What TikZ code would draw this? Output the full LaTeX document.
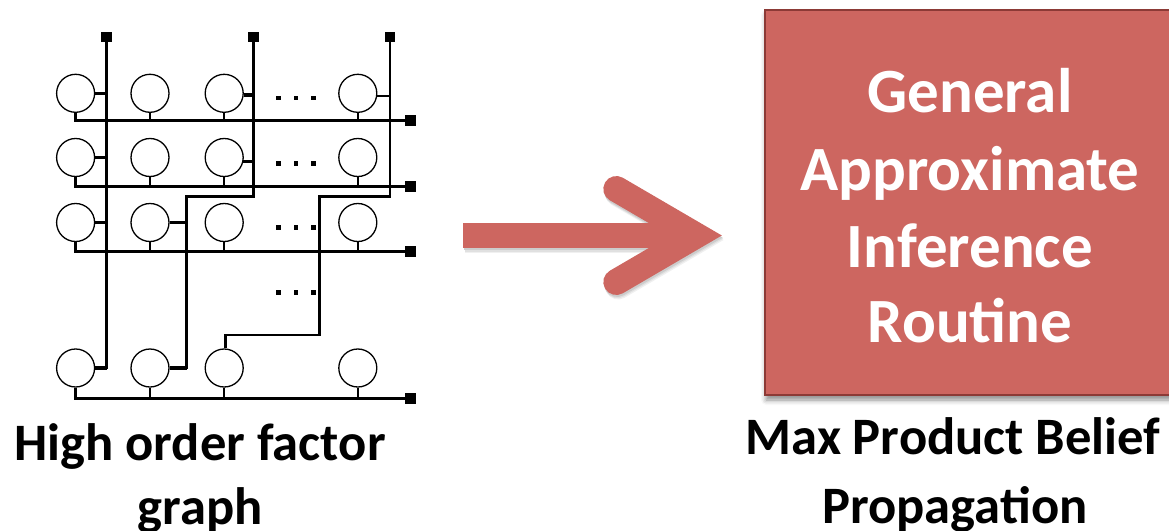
\documentclass[tikz,border=0pt]{standalone}
\usepackage{fontspec}
\setmainfont{Carlito}
\usetikzlibrary{shadows.blur}
\definecolor{boxred}{RGB}{205,102,96}
\definecolor{boxedge}{RGB}{140,58,54}
\begin{document}
\begin{tikzpicture}[x=1pt,y=-1pt,
  varnode/.style={circle,draw,line width=1.3pt,minimum size=38pt,inner sep=0pt},
  fac/.style={rectangle,fill,minimum size=10.5pt,inner sep=0pt},
  wire/.style={line width=2.5pt},
  stub/.style={line width=3.3pt},
  thinstub/.style={line width=1.5pt},
  dropline/.style={line width=2.3pt},
  captiontext/.style={font=\fontsize{52.6}{63}\selectfont\bfseries,anchor=base,inner sep=0pt},
  boxtext/.style={font=\fontsize{63}{76}\selectfont\bfseries,text=white,anchor=base,inner sep=0pt}]
\useasboundingbox (0,0) rectangle (1169,530);

% variable nodes of the grid
\foreach \r/\y in {1/93.3,2/157.5,3/222.5,4/368}
  \foreach \c/\x in {1/75.6,2/150,3/224.2,4/357.8}
    \node[varnode] (v\r\c) at (\x,\y) {};

% factor squares: one per row (right) and one per column chain (top)
\foreach \r/\y in {1/120.7,2/186.7,3/251.7,4/398.3}
  \node[fac] (f\r) at (410.3,\y) {};
\foreach \k/\x in {1/106.7,2/253.3,3/390}
  \node[fac] (t\k) at (\x,37) {};

% row factors
\foreach \r in {1,...,4} {
  \draw[wire] (v\r1.south) |- (f\r.center);
  \foreach \c in {2,3,4}
    \draw[dropline] (v\r\c.south) -- (v\r\c.south |- f\r.center);
}

% first column factor
\draw[wire] (t1.center) |- (v41.east);
\foreach \r in {1,...,4}
  \draw[stub] (v\r1.east) -- (v\r1.east -| t1.center);

% second high order factor
\coordinate (b2) at (186.7,196.7);
\coordinate (s13) at (v13.355);
\coordinate (s23) at (v23.348);
\draw[wire] (t2.center) |- (b2) |- (v42.east);
\draw[stub] (s13) -- (s13 -| t2.center);
\draw[stub] (s23) -- (s23 -| t2.center);
\draw[stub] (v32.east) -- (v32.east -| b2);
\draw[stub] (v42.east) -- (v42.east -| b2);

% third high order factor
\coordinate (c3a) at (319.3,196.7);
\coordinate (c3b) at (225.7,335);
\coordinate (s14) at (v14.352);
\draw[wire] (t3.center) |- (c3a) |- (c3b) -- (c3b |- v43.north);
\draw[thinstub] (s14) -- (s14 -| t3.center);

% ellipsis dots
\foreach \y in {98,163.5,227.3,292.3}
  \foreach \x in {278.3,296,313.3}
    \fill (\x-2.2,\y-2.2) rectangle (\x+2.2,\y+2.2);

% block arrow with a soft shadow
\foreach \d/\g in {4.5/6,3.2/12,2/20} {
  \fill[black!\g] (463.3+\d*0.4,222.7+\d) rectangle (696+\d*0.4,248.3+\d);
  \draw[black!\g, line width=26pt, line cap=round, line join=miter]
    (616.3+\d*0.4,189+\d) -- (696+\d*0.4,235.5+\d) -- (616.3+\d*0.4,282+\d);
}
\fill[boxred] (463.3,222.7) rectangle (696,248.3);
\draw[boxred, line width=26pt, line cap=round, line join=miter]
  (616.3,189) -- (696,235.5) -- (616.3,282);

% inference routine box
\node[draw=boxedge, fill=boxred, line width=2pt, minimum width=410pt,
      minimum height=385pt, inner sep=0pt,
      blur shadow={shadow xshift=1pt, shadow yshift=-5pt,
                   shadow blur radius=5pt, shadow opacity=45}]
  (box) at (970,202.5) {};
\node[boxtext] (bt1) at (970,112) {General};
\node[boxtext] (bt2) at (970,190) {Approximate};
\node[boxtext] (bt3) at (970,267) {Inference};
\node[boxtext] (bt4) at (970,342) {Routine};

% captions
\node[captiontext] (cl1) at (200,460) {High order factor};
\node[captiontext] (cl2) at (200,524) {graph};
\node[captiontext] (cr1) at (953,454) {Max Product Belief};
\node[captiontext] (cr2) at (955,523) {Propagation};
\end{tikzpicture}
\end{document}
